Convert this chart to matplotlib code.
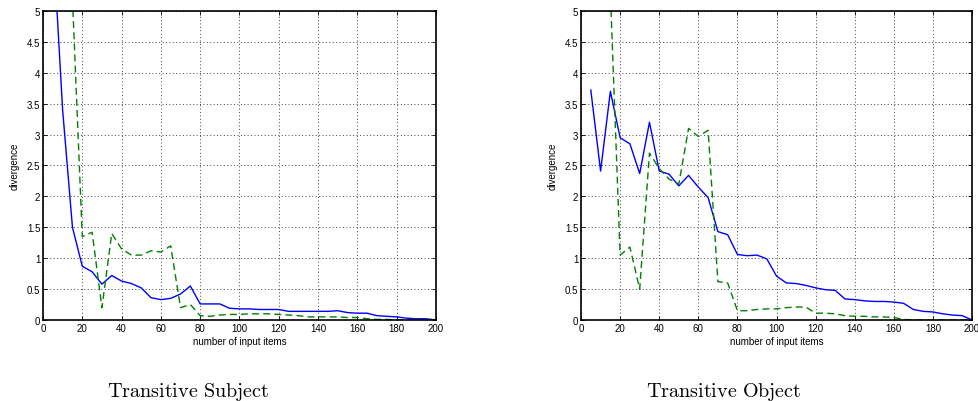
import matplotlib.pyplot as plt

# number of input items (5 .. 200)
items = list(range(5, 205, 5))

subj_blue = [6.2, 3.4, 1.5, 0.87, 0.78, 0.58, 0.72, 0.63, 0.59, 0.52,
             0.36, 0.33, 0.35, 0.42, 0.55, 0.26, 0.26, 0.26, 0.19, 0.18,
             0.18, 0.17, 0.17, 0.17, 0.14, 0.14, 0.14, 0.14, 0.14, 0.15,
             0.12, 0.11, 0.11, 0.07, 0.06, 0.05, 0.03, 0.02, 0.02, 0.0]
subj_green = [9.0, 8.0, 5.2, 1.35, 1.42, 0.2, 1.4, 1.15, 1.05, 1.05,
              1.12, 1.1, 1.2, 0.2, 0.25, 0.07, 0.06, 0.08, 0.09, 0.09,
              0.1, 0.1, 0.1, 0.09, 0.08, 0.07, 0.05, 0.05, 0.05, 0.05,
              0.04, 0.04, 0.02, 0.01, 0.01, 0.0, 0.0, 0.0, 0.0, 0.0]

obj_blue = [3.72, 2.41, 3.7, 2.95, 2.85, 2.37, 3.2, 2.41, 2.36, 2.17,
            2.34, 2.15, 1.98, 1.43, 1.38, 1.06, 1.04, 1.05, 0.99, 0.71,
            0.6, 0.59, 0.56, 0.52, 0.49, 0.48, 0.34, 0.33, 0.31, 0.3,
            0.3, 0.29, 0.27, 0.17, 0.14, 0.13, 0.1, 0.08, 0.07, 0.0]
obj_green = [9.0, 8.0, 5.3, 1.05, 1.18, 0.5, 2.7, 2.45, 2.28, 2.2,
             3.1, 2.97, 3.07, 0.62, 0.6, 0.15, 0.15, 0.17, 0.18, 0.18,
             0.2, 0.21, 0.21, 0.11, 0.11, 0.1, 0.07, 0.06, 0.06, 0.05,
             0.05, 0.04, 0.01, 0.0, 0.0, 0.0, 0.0, 0.0, 0.0, 0.0]

panels = [
    ("Transitive Subject", subj_blue, subj_green),
    ("Transitive Object", obj_blue, obj_green),
]

plt.rcParams['font.family'] = ['Liberation Sans', 'DejaVu Sans']
plt.rcParams['mathtext.fontset'] = 'cm'

fig = plt.figure(figsize=(9.79, 4.02), dpi=100)
rects = [[0.0439, 0.2015, 0.4014, 0.7687], [0.5935, 0.2015, 0.3994, 0.7687]]
title_x = [188 / 979, 724 / 979]

for rect, tx, (title, blue, green) in zip(rects, title_x, panels):
    ax = fig.add_axes(rect)
    ax.plot(items, blue, color='#0000ff', lw=1.0)
    ax.plot(items, green, color='#008000', lw=1.0, ls=(0, (5, 3)))
    ax.set_xlim(0, 200)
    ax.set_ylim(0, 5)
    ax.set_xticks(range(0, 201, 20))
    ax.set_yticks([0, 0.5, 1, 1.5, 2, 2.5, 3, 3.5, 4, 4.5, 5])
    ax.set_yticklabels(['0', '0.5', '1', '1.5', '2', '2.5', '3', '3.5', '4', '4.5', '5'])
    ax.grid(True, ls=(0, (1, 2.5)), color='#444444', lw=0.7)
    ax.tick_params(direction='in', top=True, right=True, labelsize=7,
                   length=3, width=0.6, pad=2)
    for s in ax.spines.values():
        s.set_linewidth(1.2)
    ax.set_xlabel('number of input items', fontsize=7, labelpad=2)
    ax.set_ylabel('divergence', fontsize=7, labelpad=5)
    fig.text(tx, 5 / 402, r'$\mathrm{' + title.replace(' ', r'\ ') + '}$',
             ha='center', va='baseline', fontsize=14.5)

fig.savefig('out.png', dpi=100)
